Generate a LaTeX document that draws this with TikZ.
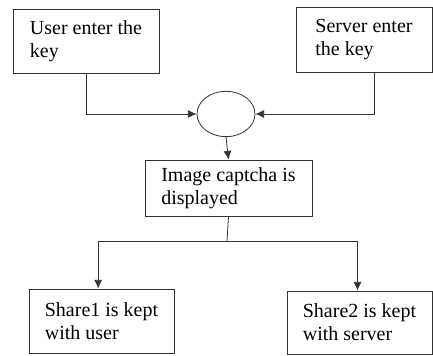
\documentclass[tikz,border=0pt]{standalone}
\usepackage{fontspec}
\setmainfont{Liberation Serif}
\usetikzlibrary{shapes.geometric,arrows.meta}
\begin{document}
\begin{tikzpicture}[x=0.75pt,y=0.75pt,->,>={Latex[length=6.5pt,width=6pt]},draw=black!80,line width=0.6pt]
	\tikzstyle{step-box}=[rectangle,draw=black!80,line width=0.6pt,inner sep=0pt,align=left,font=\fontsize{15}{17.25}\selectfont]
	\tikzstyle{join-node}=[ellipse,draw=black!80,line width=0.6pt,inner sep=0pt,minimum width=43.5pt,minimum height=34pt]
	\useasboundingbox (0,0) rectangle (433,356);
	% key entry
	\node[step-box,minimum width=109.5pt,minimum height=48pt] (user) at (86,315) {User enter the\\key};
	\node[step-box,minimum width=102pt,minimum height=48.75pt] (server) at (364,316.5) {Server enter\\the key};
	\node[join-node] (join) at (226,242) {};
	% captcha
	\node[step-box,minimum width=125.25pt,minimum height=42pt] (captcha) at (228.5,168) {Image captcha is\\displayed};
	\coordinate (split) at (227,115);
	% shares
	\node[step-box,minimum width=108.75pt,minimum height=48pt] (share1) at (101.5,35) {Share1 is kept\\with user};
	\node[step-box,minimum width=108.75pt,minimum height=47.25pt] (share2) at (359.5,33.5) {Share2 is kept\\with server};

	\draw (user.south) |- (join.west);
	\draw ([xshift=7.5pt]server.south) |- (join.east);
	\draw (join.south) -- (captcha.north);
	\draw[-] (captcha.south) -- (split);
	\draw (split) -| ([xshift=-2.5pt]share1.north);
	\draw (split) -| ([xshift=-1.5pt]share2.north);
\end{tikzpicture}
\end{document}
